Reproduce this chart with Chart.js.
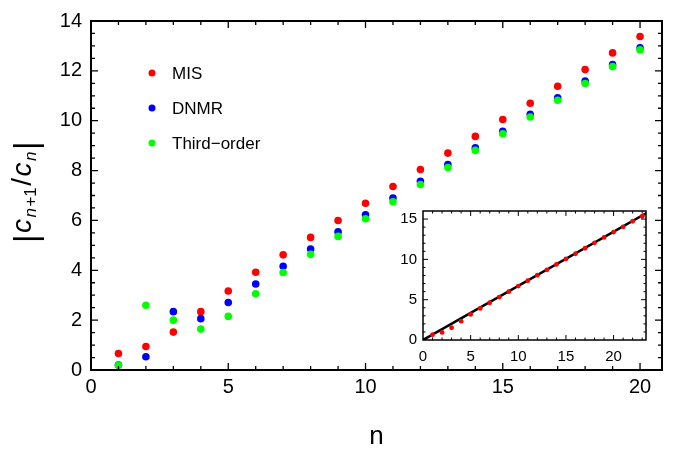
<!DOCTYPE html>
<html>
<head>
<meta charset="utf-8">
<script src="https://cdn.jsdelivr.net/npm/chart.js@4.4.0/dist/chart.umd.min.js"></script>
<style>
  html, body { margin: 0; padding: 0; background: #fff; }
  #wrap { position: relative; width: 673px; height: 452px; }
  #mainChart { position: absolute; left: 0; top: 0; }
  #insetChart { position: absolute; left: 398px; top: 196px; }
</style>
</head>
<body>
<div id="wrap">
  <canvas id="mainChart" width="673" height="452"></canvas>
  <canvas id="insetChart" width="255" height="166"></canvas>
</div>
<script>
const FONT = "'Liberation Sans', Arial, Helvetica, sans-serif";

// main plot data
const nValues = [1, 2, 3, 4, 5, 6, 7, 8, 9, 10, 11, 12, 13, 14, 15, 16, 17, 18, 19, 20];
const misValues = [0.66, 0.94, 1.52, 2.34, 3.17, 3.92, 4.62, 5.32, 6.00, 6.69, 7.36, 8.04, 8.70, 9.37, 10.05, 10.70, 11.38, 12.05, 12.72, 13.38];
const dnmrValues = [0.20, 0.53, 2.34, 2.06, 2.71, 3.45, 4.16, 4.85, 5.54, 6.23, 6.90, 7.57, 8.24, 8.91, 9.58, 10.26, 10.92, 11.59, 12.25, 12.92];
const thirdValues = [0.19, 2.60, 2.00, 1.64, 2.15, 3.06, 3.91, 4.64, 5.36, 6.07, 6.75, 7.44, 8.12, 8.81, 9.48, 10.15, 10.82, 11.49, 12.17, 12.84];
const seriesNames = ['MIS', 'DNMR', 'Third\u2212order'];
const seriesColors = ['#ff0000', '#0000ff', '#00ff00'];
const xTicks = [0, 5, 10, 15, 20];
const yTicks = [0, 2, 4, 6, 8, 10, 12, 14];

// inset data
const insetN = [1, 2, 3, 4, 5, 6, 7, 8, 9, 10, 11, 12, 13, 14, 15, 16, 17, 18, 19, 20, 21, 22, 23];
const insetMis = misValues.concat([14.04, 14.73, 15.35]);
const fitX = [0, 23.4];
const fitY = [0, 15.7];
const insetXTicks = [0, 5, 10, 15, 20];
const insetYTicks = [0, 5, 10, 15];

function pts(xs, ys) {
  return xs.map((x, i) => ({x: x, y: ys[i]}));
}

// mathematica style frame, ticks pointing inward on all four sides
const frameTicks = {
  id: 'frameTicks',
  afterDatasetsDraw(chart, args, o) {
    const ctx = chart.ctx, a = chart.chartArea;
    const sx = chart.scales.x, sy = chart.scales.y;
    const majX = sx.ticks.map(t => t.value), majY = sy.ticks.map(t => t.value);
    const isMaj = (list, v) => list.some(m => Math.abs(m - v) < 1e-6);
    ctx.save();
    ctx.strokeStyle = '#000';
    ctx.lineWidth = o.tickWidth;
    ctx.beginPath();
    for (let k = 1; k * o.xMinor < sx.max - 1e-6; k++) {
      const v = k * o.xMinor;
      const len = isMaj(majX, v) ? o.major : o.minor;
      const px = sx.getPixelForValue(v);
      ctx.moveTo(px, a.bottom); ctx.lineTo(px, a.bottom - len);
      ctx.moveTo(px, a.top); ctx.lineTo(px, a.top + len);
    }
    for (let k = 1; k * o.yMinor < sy.max - 1e-6; k++) {
      const v = k * o.yMinor;
      const len = isMaj(majY, v) ? o.major : o.minor;
      const py = sy.getPixelForValue(v);
      ctx.moveTo(a.left, py); ctx.lineTo(a.left + len, py);
      ctx.moveTo(a.right, py); ctx.lineTo(a.right - len, py);
    }
    ctx.stroke();
    ctx.lineWidth = o.frameWidth;
    ctx.strokeRect(a.left, a.top, a.right - a.left, a.bottom - a.top);
    ctx.restore();
  }
};

// legend inside the plot, top left
const cornerLegend = {
  id: 'cornerLegend',
  afterDraw(chart, args, o) {
    const ctx = chart.ctx, a = chart.chartArea;
    ctx.save();
    ctx.font = '17px ' + FONT;
    ctx.textBaseline = 'middle';
    chart.data.datasets.forEach((ds, i) => {
      const y = a.top + o.top + i * o.gap;
      ctx.fillStyle = ds.backgroundColor;
      ctx.beginPath();
      ctx.arc(a.left + o.left, y, 3.5, 0, Math.PI * 2);
      ctx.fill();
      ctx.fillStyle = '#000';
      ctx.fillText(ds.label, a.left + o.left + 20, y + 1);
    });
    ctx.restore();
  }
};

// |c_{n+1}/c_n| drawn rotated with subscripts
const yTitle = {
  id: 'yTitle',
  afterDraw(chart) {
    const ctx = chart.ctx, a = chart.chartArea;
    const parts = [
      {t: '|', f: '33px ' + FONT, dy: 6},
      {t: 'c', f: 'italic 28px ' + FONT, dy: 0},
      {t: 'n', f: 'italic 17px ' + FONT, dy: 5},
      {t: '+1', f: '17px ' + FONT, dy: 5},
      {t: '/', f: '28px ' + FONT, dy: 0},
      {t: 'c', f: 'italic 28px ' + FONT, dy: 0},
      {t: 'n', f: 'italic 17px ' + FONT, dy: 5},
      {t: '|', f: '33px ' + FONT, dy: 6}
    ];
    ctx.save();
    let total = 0;
    parts.forEach(p => { ctx.font = p.f; p.w = ctx.measureText(p.t).width + 1.5; total += p.w; });
    ctx.translate(31, (a.top + a.bottom) / 2 - 4);
    ctx.rotate(-Math.PI / 2);
    ctx.fillStyle = '#000';
    ctx.textBaseline = 'alphabetic';
    let x = -total / 2;
    parts.forEach(p => {
      ctx.font = p.f;
      ctx.fillText(p.t, x, p.dy);
      x += p.w;
    });
    ctx.restore();
  }
};

new Chart(document.getElementById('mainChart'), {
  type: 'scatter',
  data: {
    datasets: [
      {label: seriesNames[0], data: pts(nValues, misValues), backgroundColor: seriesColors[0], order: 3},
      {label: seriesNames[1], data: pts(nValues, dnmrValues), backgroundColor: seriesColors[1], order: 2},
      {label: seriesNames[2], data: pts(nValues, thirdValues), backgroundColor: seriesColors[2], order: 1}
    ]
  },
  options: {
    responsive: false,
    animation: false,
    devicePixelRatio: 1,
    layout: {padding: {top: 16, right: 11, left: 0, bottom: 0}},
    elements: {point: {radius: 3.8, hoverRadius: 3.8, borderWidth: 0}},
    plugins: {
      legend: {display: false},
      tooltip: {enabled: false},
      frameTicks: {xMinor: 1, yMinor: 0.5, major: 7, minor: 4, tickWidth: 1.3, frameWidth: 2},
      cornerLegend: {left: 61, top: 52, gap: 35}
    },
    scales: {
      x: {
        type: 'linear', min: 0, max: 20.8,
        grid: {display: false, drawTicks: false},
        border: {display: false},
        afterBuildTicks: s => { s.ticks = xTicks.map(v => ({value: v})); },
        afterFit: s => { s.height = 82; },
        ticks: {font: {family: FONT, size: 20}, color: '#000', padding: 5, autoSkip: false, maxRotation: 0},
        title: {display: true, text: 'n', font: {family: FONT, size: 26}, color: '#000', padding: 0}
      },
      y: {
        type: 'linear', min: 0, max: 14,
        grid: {display: false, drawTicks: false},
        border: {display: false},
        afterBuildTicks: s => { s.ticks = yTicks.map(v => ({value: v})); },
        afterFit: s => { s.width = 91; },
        ticks: {font: {family: FONT, size: 20}, color: '#000', padding: 9, autoSkip: false}
      }
    }
  },
  plugins: [frameTicks, cornerLegend, yTitle]
});

new Chart(document.getElementById('insetChart'), {
  type: 'scatter',
  data: {
    datasets: [
      {label: 'MIS', data: pts(insetN, insetMis), backgroundColor: '#ff0000', pointRadius: 2.4, borderWidth: 0, order: 1},
      {label: 'fit', data: pts(fitX, fitY), showLine: true, borderColor: '#000', borderWidth: 2.5, pointRadius: 0, order: 2}
    ]
  },
  options: {
    responsive: false,
    animation: false,
    devicePixelRatio: 1,
    layout: {padding: {top: 5, right: 7, left: 0, bottom: 0}},
    plugins: {
      legend: {display: false},
      tooltip: {enabled: false},
      frameTicks: {xMinor: 1, yMinor: 1, major: 5, minor: 2.5, tickWidth: 1, frameWidth: 1.5}
    },
    scales: {
      x: {
        type: 'linear', min: 0, max: 23.4,
        grid: {display: false, drawTicks: false},
        border: {display: false},
        afterBuildTicks: s => { s.ticks = insetXTicks.map(v => ({value: v})); },
        afterFit: s => { s.height = 22; },
        ticks: {font: {family: FONT, size: 15}, color: '#000', padding: 8, autoSkip: false, maxRotation: 0}
      },
      y: {
        type: 'linear', min: 0, max: 16,
        grid: {display: false, drawTicks: false},
        border: {display: false},
        afterBuildTicks: s => { s.ticks = insetYTicks.map(v => ({value: v})); },
        afterFit: s => { s.width = 25; },
        ticks: {font: {family: FONT, size: 15}, color: '#000', padding: 6, autoSkip: false}
      }
    }
  },
  plugins: [frameTicks]
});
</script>
</body>
</html>
